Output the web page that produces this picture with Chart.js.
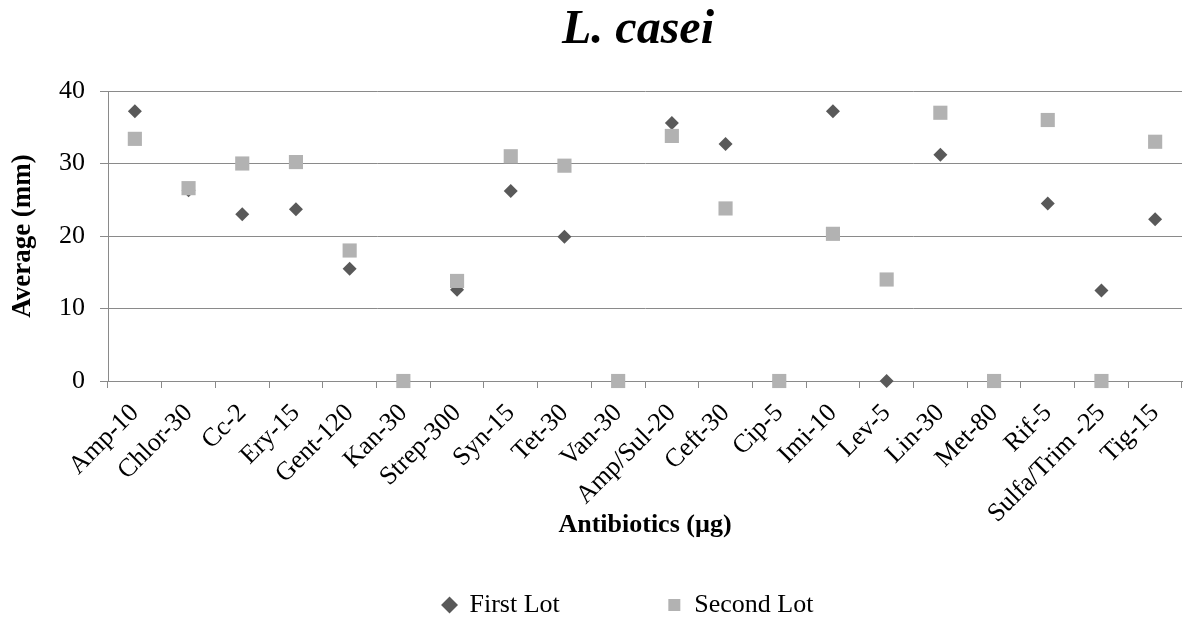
<!DOCTYPE html>
<html>
<head>
<meta charset="utf-8">
<script src="https://cdn.jsdelivr.net/npm/chart.js@4.4.1/dist/chart.umd.min.js"></script>
<style>
    body { margin: 0; background: #fff; }
    #wrap { width: 1192px; height: 621px; }
</style>
</head>
<body>
<div id="wrap"><canvas id="chart"></canvas></div>
<script>
var antibiotics = ['Amp-10', 'Chlor-30', 'Cc-2', 'Ery-15', 'Gent-120', 'Kan-30', 'Strep-300', 'Syn-15', 'Tet-30', 'Van-30',
    'Amp/Sul-20', 'Ceft-30', 'Cip-5', 'Imi-10', 'Lev-5', 'Lin-30', 'Met-80', 'Rif-5', 'Sulfa/Trim -25', 'Tig-15'];
var firstLot = [37.2, 26.3, 23.0, 23.7, 15.5, 0, 12.6, 26.2, 19.9, 0,
    35.6, 32.7, 0, 37.2, 0, 31.2, 0, 24.5, 12.5, 22.3];
var secondLot = [33.4, 26.6, 30.0, 30.2, 18.0, 0, 13.8, 31.0, 29.7, 0,
    33.8, 23.8, 0, 20.3, 14.0, 37.0, 0, 36.0, 0, 33.0];
var yMin = 0, yMax = 40, yStep = 10;

var serif = "'Liberation Serif', 'Times New Roman', serif";
var gridColor = '#8a8a8a';

// title is centred over the plot area, not the whole canvas
var titlePlugin = {
    id: 'plotTitle',
    afterDraw: function(chart) {
        var ctx = chart.ctx;
        ctx.save();
        ctx.font = 'italic bold 48px ' + serif;
        ctx.fillStyle = '#000';
        ctx.textAlign = 'center';
        ctx.textBaseline = 'alphabetic';
        ctx.fillText('L. casei', 638, 43);
        ctx.restore();
    }
};

// nudge the legend to where it sits in the original
var legendShift = {
    id: 'legendShift',
    afterLayout: function(chart) {
        var lg = chart.legend;
        lg.left += 33; lg.right += 33;
        lg.top += 7; lg.bottom += 7;
    }
};

var ctx = document.getElementById('chart').getContext('2d');
var chart = new Chart(ctx, {
    type: 'line',
    data: {
        labels: antibiotics,
        datasets: [{
            label: 'First Lot' + '\u00A0'.repeat(15),
            data: firstLot,
            showLine: false,
            pointStyle: 'rectRot',
            pointRadius: 7,
            pointHoverRadius: 7,
            pointBorderWidth: 0,
            backgroundColor: '#595959',
            borderColor: '#595959',
            clip: false,
            order: 1
        }, {
            label: 'Second Lot',
            data: secondLot,
            showLine: false,
            pointStyle: 'rect',
            pointRadius: 10,
            pointHoverRadius: 10,
            pointBorderWidth: 0,
            backgroundColor: '#b2b2b2',
            borderColor: '#b2b2b2',
            clip: false,
            order: 0
        }]
    },
    options: {
        responsive: true,
        maintainAspectRatio: false,
        animation: false,
        layout: {
            padding: { top: 91, right: 2, left: 0, bottom: 0 }
        },
        plugins: {
            title: { display: false },
            tooltip: { enabled: false },
            legend: {
                position: 'bottom',
                labels: {
                    usePointStyle: true,
                    boxWidth: 14,
                    boxHeight: 12,
                    padding: 10,
                    color: '#000',
                    font: { family: serif, size: 26 },
                    sort: function(a, b) { return a.datasetIndex - b.datasetIndex; }
                }
            }
        },
        scales: {
            x: {
                offset: true,
                grid: {
                    offset: true,
                    drawOnChartArea: false,
                    drawTicks: true,
                    tickLength: 7,
                    color: gridColor
                },
                border: { display: true, color: gridColor },
                ticks: {
                    autoSkip: false,
                    maxRotation: 45,
                    minRotation: 45,
                    padding: 10,
                    color: '#000',
                    font: { family: serif, size: 26 }
                },
                title: {
                    display: true,
                    text: 'Antibiotics (µg)',
                    color: '#000',
                    font: { family: serif, size: 26, weight: 'bold' },
                    padding: { top: 0, bottom: 34 }
                },
                afterFit: function(scale) { scale.height = 194; }
            },
            y: {
                min: yMin,
                max: yMax,
                grid: {
                    color: gridColor,
                    tickLength: 8
                },
                border: { display: true, color: gridColor },
                ticks: {
                    stepSize: yStep,
                    padding: 15,
                    color: '#000',
                    font: { family: serif, size: 26 }
                },
                title: {
                    display: true,
                    text: 'Average (mm)',
                    color: '#000',
                    font: { family: serif, size: 27, weight: 'bold' },
                    padding: { top: 7, bottom: 0 }
                },
                afterFit: function(scale) { scale.width = 108; }
            }
        }
    },
    plugins: [titlePlugin, legendShift]
});
</script>
</body>
</html>
